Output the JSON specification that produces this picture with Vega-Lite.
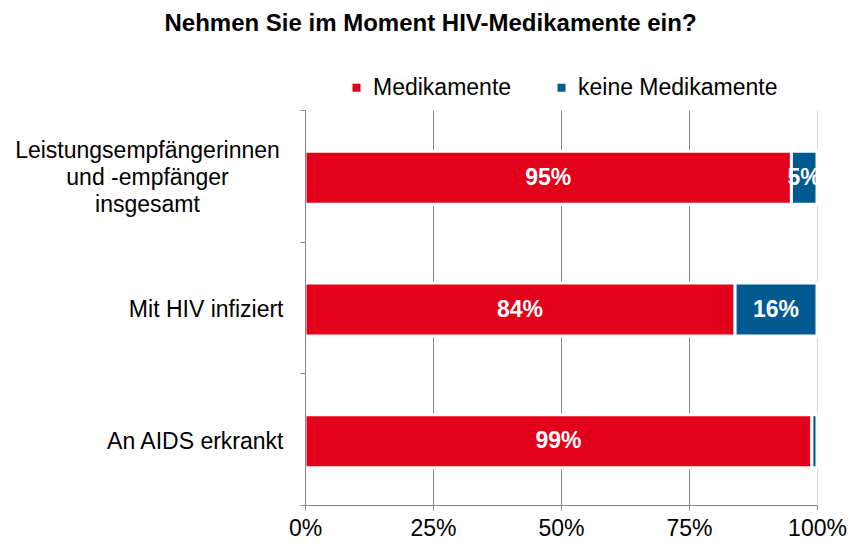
{
  "$schema": "https://vega.github.io/schema/vega-lite/v6.json",
  "width": 512,
  "height": 395,
  "autosize": {"type": "none"},
  "padding": {"left": 305, "top": 110, "right": 39, "bottom": 43},
  "background": "white",
  "config": {
    "font": "Liberation Sans",
    "view": {"stroke": null}
  },
  "title": {
    "text": "Nehmen Sie im Moment HIV-Medikamente ein?",
    "font": "Liberation Sans",
    "fontSize": 24,
    "fontWeight": "bold",
    "color": "#000000",
    "anchor": "middle",
    "frame": "bounds",
    "offset": 40
  },
  "data": {
    "values": [
      {"gruppe": "Leistungsempfängerinnen und -empfänger insgesamt", "antwort": "Medikamente", "ordnung": 1, "anteil": 0.95},
      {"gruppe": "Leistungsempfängerinnen und -empfänger insgesamt", "antwort": "keine Medikamente", "ordnung": 2, "anteil": 0.05},
      {"gruppe": "Mit HIV infiziert", "antwort": "Medikamente", "ordnung": 1, "anteil": 0.84},
      {"gruppe": "Mit HIV infiziert", "antwort": "keine Medikamente", "ordnung": 2, "anteil": 0.16},
      {"gruppe": "An AIDS erkrankt", "antwort": "Medikamente", "ordnung": 1, "anteil": 0.99},
      {"gruppe": "An AIDS erkrankt", "antwort": "keine Medikamente", "ordnung": 2, "anteil": 0.01}
    ]
  },
  "transform": [
    {"stack": "anteil", "groupby": ["gruppe"], "sort": [{"field": "ordnung", "order": "ascending"}], "as": ["x0", "x1"]},
    {"calculate": "(datum.x0 + datum.x1) / 2", "as": "mitte"}
  ],
  "encoding": {
    "y": {
      "field": "gruppe",
      "type": "nominal",
      "sort": ["Leistungsempfängerinnen und -empfänger insgesamt", "Mit HIV infiziert", "An AIDS erkrankt"],
      "scale": {"paddingInner": 0, "paddingOuter": 0},
      "title": null,
      "axis": {
        "zindex": 1,
        "tickBand": "extent",
        "domainColor": "#868686",
        "tickColor": "#868686",
        "tickSize": 5,
        "labelFont": "Liberation Sans",
        "labelFontSize": 23,
        "labelColor": "#000000",
        "labelLimit": 400,
        "labelLineHeight": 27,
        "labelExpr": "datum.value == 'Leistungsempfängerinnen und -empfänger insgesamt' ? ['Leistungsempfängerinnen', 'und -empfänger', 'insgesamt'] : datum.label",
        "labelAlign": {"condition": {"test": "datum.value == 'Leistungsempfängerinnen und -empfänger insgesamt'", "value": "center"}, "value": "right"},
        "labelPadding": {"condition": {"test": "datum.value == 'Leistungsempfängerinnen und -empfänger insgesamt'", "value": 153}, "value": 17},
        "labelOffset": {"condition": {"test": "datum.value == 'Leistungsempfängerinnen und -empfänger insgesamt'", "value": -25}, "value": 2}
      }
    }
  },
  "layer": [
    {
      "mark": {"type": "bar", "height": 53, "yOffset": 2, "stroke": "white", "strokeWidth": 3},
      "encoding": {
        "x": {
          "field": "x0",
          "type": "quantitative",
          "scale": {"domain": [0, 1]},
          "title": null,
          "axis": {
            "values": [0, 0.25, 0.5, 0.75, 1],
            "format": ".0%",
            "zindex": 0,
            "grid": true,
            "gridColor": {"condition": {"test": "datum.value == 1", "value": "#D9D9D9"}, "value": "#868686"},
            "gridWidth": 1,
            "domainColor": "#868686",
            "tickColor": "#868686",
            "tickSize": 5,
            "labelFont": "Liberation Sans",
            "labelFontSize": 23,
            "labelColor": "#000000",
            "labelPadding": 7,
            "labelFlush": false
          }
        },
        "x2": {"field": "x1"},
        "color": {
          "field": "antwort",
          "type": "nominal",
          "scale": {"domain": ["Medikamente", "keine Medikamente"], "range": ["#E2001A", "#005A8F"]},
          "legend": {
            "title": null,
            "orient": "none",
            "direction": "horizontal",
            "legendX": 40,
            "legendY": -34,
            "symbolType": "square",
            "symbolSize": 64,
            "symbolStrokeWidth": 0,
            "labelFont": "Liberation Sans",
            "labelFontSize": 23,
            "labelColor": "#000000",
            "labelOffset": 5,
            "columnPadding": 38,
            "labelLimit": 300
          }
        }
      }
    },
    {
      "transform": [{"filter": "datum.anteil >= 0.05"}],
      "mark": {"type": "text", "color": "white", "font": "Liberation Sans", "fontSize": 23, "fontWeight": "bold", "align": "center", "baseline": "middle", "yOffset": 2, "clip": true},
      "encoding": {
        "x": {"field": "mitte", "type": "quantitative"},
        "text": {"field": "anteil", "type": "quantitative", "format": ".0%"}
      }
    }
  ]
}
